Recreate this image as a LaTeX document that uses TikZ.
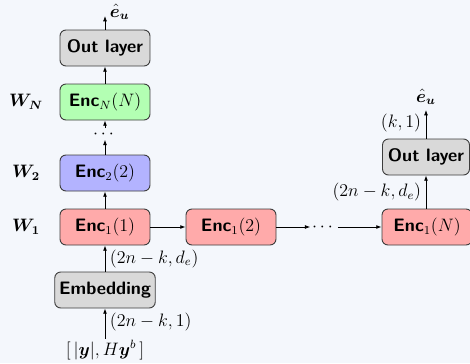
\documentclass[tikz,border=0pt]{standalone}
\usepackage{amsmath,bm}
\usetikzlibrary{arrows.meta}
\definecolor{bgc}{RGB}{244,247,252}
\definecolor{redf}{RGB}{255,170,170}
\definecolor{greenf}{RGB}{179,255,179}
\definecolor{bluef}{RGB}{179,179,255}
\definecolor{grayf}{RGB}{217,217,217}
\definecolor{edgec}{RGB}{60,60,60}
\tikzset{
  blk/.style={draw=edgec, line width=0.6pt, rounded corners=4pt, minimum width=60pt, minimum height=24pt, inner sep=1pt, font=\large\sffamily\bfseries},
  arr/.style={-{Latex[length=3.5pt,width=2.6pt]}, line width=0.55pt},
  lbl/.style={inner sep=1pt, font=\large},
}
\newcommand{\encx}[2]{\textsf{\textbf{Enc}}$_{#1}(#2)$}
\begin{document}
\begin{tikzpicture}[x=0.6667pt,y=-0.6667pt]
\fill[bgc] (0,0) rectangle (470,363);
\useasboundingbox (0,0) rectangle (470,363);
% left column
\node[blk, fill=grayf] (outL) at (105,48) {Out layer};
\node[blk, fill=greenf] (encN) at (105,102) {\encx{N}{N}};
\node[lbl] (vd) at (105,134) {$\cdots$};
\node[blk, fill=bluef] (enc2) at (105,173) {\encx{2}{2}};
\node[blk, fill=redf] (enc1) at (105,227) {\encx{1}{1}};
\node[blk, fill=grayf, minimum width=67pt] (emb) at (105,290) {Embedding};
\node[lbl] (inp) at (105,350) {$[\,|\bm{y}|, H\bm{y}^b\,]$};
\coordinate (topL) at (105,16);
\node[lbl, anchor=west] (eL) at (108,12) {$\hat{\bm{e}}_{\bm{u}}$};
% W labels
\node[lbl] (wN) at (26,102) {$\bm{W_N}$};
\node[lbl] (w2) at (26,173) {$\bm{W_2}$};
\node[lbl] (w1) at (26,227) {$\bm{W_1}$};
% right chain
\node[blk, fill=redf] (enc12) at (231,227) {\encx{1}{2}};
\node[lbl] (hd) at (324,227) {$\cdots$};
\node[blk, fill=redf] (enc1N) at (427,227) {\encx{1}{N}};
\node[blk, fill=grayf, minimum width=58pt] (outR) at (426,157) {Out layer};
\coordinate (topR) at (426,110);
\node[lbl] (eR) at (426,97) {$\hat{\bm{e}}_{\bm{u}}$};
% arrows
\draw[arr] (inp) -- (emb) node[pos=0.55, right=2pt, lbl] {$(2n-k,1)$};
\draw[arr] (emb) -- (enc1) node[midway, right=2pt, lbl] {$(2n-k,d_e)$};
\draw[arr] (enc1) -- (enc2);
\draw[arr] (enc2) -- (vd);
\draw[arr] (vd) -- (encN);
\draw[arr] (encN) -- (outL);
\draw[arr] (outL) -- (topL);
\draw[arr] (enc1) -- (enc12);
\draw[arr] (enc12) -- (hd);
\draw[arr] (hd) -- (enc1N);
\draw[arr] (enc1N.north -| outR) -- (outR) node[midway, left=2pt, lbl] {$(2n-k,d_e)$};
\draw[arr] (outR) -- (topR) node[pos=0.55, left=2pt, lbl] {$(k,1)$};
\end{tikzpicture}
\end{document}
